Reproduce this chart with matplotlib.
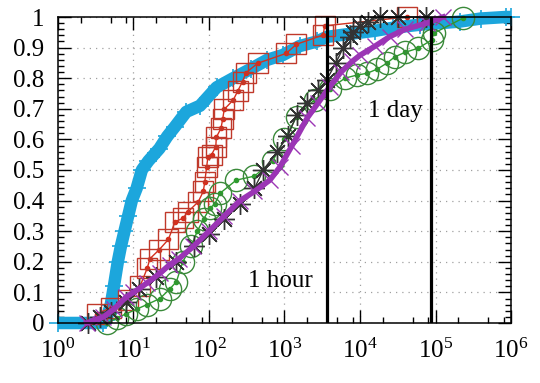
import matplotlib
matplotlib.use("Agg")
import matplotlib.pyplot as plt
from matplotlib.ticker import LogLocator, FixedLocator, MultipleLocator, FixedFormatter

plt.rcParams['font.family'] = 'serif'
plt.rcParams['font.serif'] = ['Liberation Serif']
plt.rcParams['mathtext.fontset'] = 'custom'
plt.rcParams['mathtext.rm'] = 'Liberation Serif'
plt.rcParams['mathtext.it'] = 'Liberation Serif:italic'

# CDF curves (x in seconds)
cyan_x = [1, 3.9, 4.3, 4.6, 5.0, 5.5, 6.2, 6.8, 7.6, 8.5, 9.5, 11, 12.9, 15.8, 22, 28, 35, 50, 76, 126,
          209, 355, 589, 955, 1585, 2690, 3630, 7400, 15800, 27500, 63000, 209000, 398000, 850000, 1000000]
cyan_y = [0, 0, 0.01, 0.03, 0.06, 0.12, 0.2, 0.25, 0.3, 0.35, 0.4, 0.44, 0.5, 0.53, 0.57, 0.61, 0.64, 0.69, 0.71, 0.77,
          0.8, 0.83, 0.86, 0.876, 0.905, 0.92, 0.935, 0.945, 0.955, 0.965, 0.975, 0.985, 0.995, 1.0, 1.0]

red_x = [3.3, 5, 8.5, 12.2, 15.2, 16.5, 22, 29, 35.5, 45, 53, 72, 84, 88, 93, 97, 108, 123, 125, 144,
         152, 159, 210, 240, 278, 309, 443, 1050, 1440, 3250, 3400, 41500]
red_y = [0.03, 0.05, 0.075, 0.12, 0.179, 0.21, 0.24, 0.273, 0.331, 0.342, 0.364, 0.396, 0.43, 0.462, 0.51, 0.544, 0.55, 0.576, 0.607, 0.636,
         0.667, 0.698, 0.729, 0.758, 0.789, 0.818, 0.849, 0.881, 0.911, 0.941, 0.971, 1.0]

green_x = [4.5, 6, 8, 11, 15, 22.4, 30, 37, 45, 58, 70, 85, 103, 120, 140, 230, 400, 700, 1000, 1450,
           2500, 4000, 6300, 9000, 12400, 17000, 22600, 29000, 40000, 59000, 89000, 95000, 230000]
green_y = [0.0, 0.016, 0.03, 0.045, 0.06, 0.08, 0.11, 0.135, 0.2, 0.25, 0.3, 0.34, 0.375, 0.39, 0.424, 0.467, 0.48, 0.53, 0.6, 0.674,
           0.73, 0.765, 0.8, 0.81, 0.816, 0.83, 0.849, 0.87, 0.885, 0.898, 0.925, 0.947, 0.996]

black_x = [2.5, 3.6, 5, 8, 12, 20, 37, 63, 100, 160, 258, 400, 525, 800, 1100, 1450, 2000, 2800, 3600, 4800,
           6000, 7400, 8100, 10000, 12600, 18200, 31600, 75900]
black_y = [0, 0.02, 0.035, 0.07, 0.11, 0.15, 0.2, 0.25, 0.29, 0.34, 0.39, 0.44, 0.5, 0.56, 0.61, 0.68, 0.72, 0.76, 0.794, 0.85,
           0.9, 0.936, 0.95, 0.97, 0.985, 1.0, 1.0, 1.0]

purple_x = [2.4, 4, 5.5, 8, 10, 15, 22.5, 30, 40, 62, 100, 160, 258, 400, 640, 870, 1260, 2000, 2800, 3970,
            5600, 7900, 10000, 15850, 24800, 39800, 76000, 125900]
purple_y = [0, 0.02, 0.045, 0.085, 0.1, 0.13, 0.163, 0.19, 0.21, 0.25, 0.3, 0.35, 0.4, 0.43, 0.467, 0.51, 0.58, 0.67, 0.72, 0.772,
            0.82, 0.855, 0.875, 0.905, 0.936, 0.96, 0.98, 1.0]

hour = 3600
day = 86400
yticks = [0, 0.1, 0.2, 0.3, 0.4, 0.5, 0.6, 0.7, 0.8, 0.9, 1]
ylabels = ['0', '0.1', '0.2', '0.3', '0.4', '0.5', '0.6', '0.7', '0.8', '0.9', '1']

fig = plt.figure(figsize=(5.4, 3.83), dpi=100)
ax = fig.add_axes([0.1074, 0.1567, 0.8389, 0.7989])

ax.plot(cyan_x, cyan_y, '-', color='#1ca6dc', lw=9, solid_capstyle='butt', clip_on=False, zorder=3)
ax.plot(cyan_x, cyan_y, '+', color='#1ca6dc', ms=13, mew=1.2, clip_on=False, zorder=3)

ax.plot(red_x, red_y, '-o', color='#d4301e', lw=1, ms=3, clip_on=False, zorder=4)
ax.plot(red_x, red_y, 's', mfc='none', mec='#c0392b', ms=14, mew=1, clip_on=False, zorder=4)

ax.plot(green_x, green_y, '-o', color='#2e9a2e', lw=1, ms=3, clip_on=False, zorder=5)
ax.plot(green_x, green_y, 'o', mfc='none', mec='#3a8a3a', ms=16, mew=1, clip_on=False, zorder=5)

ax.plot(black_x, black_y, '-o', color='#333333', lw=1, ms=3, clip_on=False, zorder=6)
ax.plot(black_x, black_y, ls='none', marker=(8, 2, 0), color='#333333', ms=15, mew=1, clip_on=False, zorder=6)

ax.plot(purple_x, purple_y, '-', color='#9b35b5', lw=4, clip_on=False, zorder=7)
ax.plot(purple_x, purple_y, 'x', color='#9b35b5', ms=11, mew=1, clip_on=False, zorder=7)

ax.axvline(hour, color='black', lw=2.3, zorder=8)
ax.axvline(day, color='black', lw=2.3, zorder=8)

ax.text(330, 0.118, '1 hour', fontsize=18, ha='left', va='baseline', zorder=9)
ax.text(12800, 0.672, '1 day', fontsize=18, ha='left', va='baseline', zorder=9)

ax.set_xscale('log')
ax.set_xlim(1, 1e6)
ax.set_ylim(0, 1)

ax.xaxis.set_major_locator(FixedLocator([10.0 ** k for k in range(7)]))
ax.xaxis.set_major_formatter(FixedFormatter(['$10^{%d}$' % k for k in range(7)]))
ax.xaxis.set_minor_locator(LogLocator(base=10, subs=(2.0, 5.0, 8.0)))
ax.set_yticks(yticks)
ax.set_yticklabels(ylabels)
ax.yaxis.set_minor_locator(MultipleLocator(0.02))

ax.tick_params(which='both', direction='in', top=True, right=True, width=1, colors='black', labelsize=18)
ax.tick_params(which='major', length=9.5)
ax.tick_params(which='minor', length=4.5)
ax.tick_params(axis='x', which='major', pad=11)
ax.tick_params(axis='y', which='major', pad=10)

ax.grid(True, which='major', color='#a0a0a0', linestyle=(0, (1, 4)), lw=0.9)
for s in ax.spines.values():
    s.set_linewidth(1.1)
    s.set_zorder(10)

fig.savefig('out.png', dpi=100)
